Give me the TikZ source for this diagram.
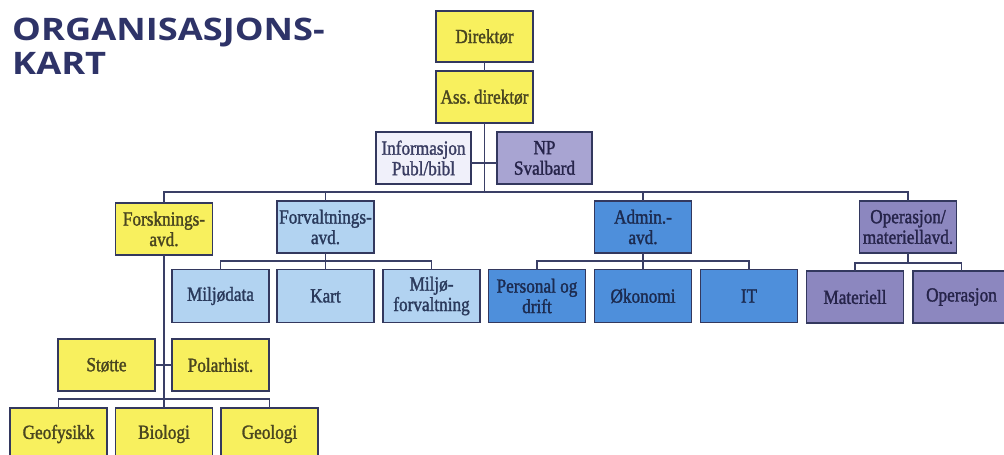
\documentclass[tikz,border=0pt]{standalone}
\usepackage{fontspec}
\setmainfont{Liberation Serif}
\newfontfamily\boxfont{Liberation Serif}[FakeStretch=0.86,FakeBold=1.5]
\newfontfamily\titlefont{Open Sans}[FakeStretch=1.17]
\definecolor{bordc}{HTML}{33385E}
\definecolor{linec}{HTML}{3A3F66}
\definecolor{yelc}{HTML}{F8F05E}
\definecolor{yeltxt}{HTML}{4A4620}
\definecolor{ltbluec}{HTML}{B2D3F1}
\definecolor{ltbluetxt}{HTML}{2A3A5C}
\definecolor{bluec}{HTML}{4E8FDB}
\definecolor{bluetxt}{HTML}{1C2B50}
\definecolor{purpc}{HTML}{8C87BF}
\definecolor{purptxt}{HTML}{26244A}
\definecolor{npc}{HTML}{A8A4D2}
\definecolor{infoc}{HTML}{F0F0FA}
\definecolor{infotxt}{HTML}{3A3D62}
\definecolor{titlec}{HTML}{2E3368}
\begin{document}
\begin{tikzpicture}[x=1pt,y=-1pt,
  box/.style={draw=bordc, line width=1.6pt, rectangle, inner sep=0pt, outer sep=0pt,
    align=center, minimum height=52pt, minimum width=97pt,
    font=\boxfont\fontsize{20}{20.5}\selectfont},
  yel/.style={box, fill=yelc, text=yeltxt},
  ltblue/.style={box, fill=ltbluec, text=ltbluetxt},
  blue/.style={box, fill=bluec, text=bluetxt},
  purp/.style={box, fill=purpc, text=purptxt},
  conn/.style={draw=linec, line width=1.4pt}]
\useasboundingbox (0,0) rectangle (1004,455);
\fill[white] (0,0) rectangle (1004,455);
\clip (0,0) rectangle (1004,455);

% title
\node[anchor=north west, inner sep=0pt, align=left, text=titlec,
  font=\titlefont\bfseries\fontsize{31}{33.5}\selectfont] (title) at (12,18) {ORGANISASJONS-\\KART};

% top
\node[yel, minimum height=51pt] (dir) at (484.5,36.5) {Direktør};
\node[yel] (ass) at (484.5,97) {Ass.\,direktør};
\node[box, fill=infoc, text=infotxt, minimum width=95pt] (info) at (423.5,158) {Informasjon\\Publ/bibl};
\node[box, fill=npc, text=purptxt, minimum width=95pt] (np) at (544.5,158) {NP\\Svalbard};
\coordinate (bar) at (484.5,192);

% departments
\node[yel] (fors) at (164,229) {Forsknings-\\avd.};
\node[ltblue] (forv) at (325.5,227) {Forvaltnings-\\avd.};
\node[blue] (admin) at (643,227) {Admin.-\\avd.};
\node[purp] (oper) at (908,227) {Operasjon/\\materiellavd.};

% level 3
\node[ltblue, minimum height=53pt] (milj) at (220.5,296) {Miljødata};
\node[ltblue, minimum height=53pt] (kart) at (325.5,296) {Kart};
\node[ltblue, minimum height=53pt] (mforv) at (431.5,296) {Miljø-\\forvaltning};
\node[blue, minimum height=53pt] (pers) at (537,296) {Personal og\\drift};
\node[blue, minimum height=53pt] (oko) at (643,296) {Økonomi};
\node[blue, minimum height=53pt] (it) at (749,296) {IT};
\node[purp] (mat) at (855,297) {Materiell};
\node[purp] (ops) at (961.5,297) {Operasjon};
\coordinate (subforv) at (325.5,261);
\coordinate (subadm) at (643,261);
\coordinate (subop) at (908,263);

% research branch
\node[yel] (stot) at (106.5,365) {Støtte};
\node[yel] (polar) at (220.5,365) {Polarhist.};
\node[yel] (geof) at (58.5,434) {Geofysikk};
\node[yel] (bio) at (164,434) {Biologi};
\node[yel] (geol) at (269.5,434) {Geologi};
\coordinate (subfors) at (164,399);

% connectors
\draw[conn] (dir) -- (ass);
\draw[conn] (ass) -- (bar);
\draw[conn] ([yshift=-5pt]info.east) -- ([yshift=-5pt]np.west);
\draw[conn] (fors.north) -- (fors.north |- bar) -- (oper.north |- bar) -- (oper.north);
\draw[conn] (forv.north) -- (forv.north |- bar);
\draw[conn] (admin.north) -- (admin.north |- bar);

\draw[conn] (forv.south) -- (subforv);
\draw[conn] (milj.north) -- (milj.north |- subforv) -- (mforv.north |- subforv) -- (mforv.north);
\draw[conn] (kart.north) -- (subforv);

\draw[conn] (admin.south) -- (subadm);
\draw[conn] (pers.north) -- (pers.north |- subadm) -- (it.north |- subadm) -- (it.north);
\draw[conn] (oko.north) -- (subadm);

\draw[conn] (oper.south) -- (subop);
\draw[conn] (mat.north) -- (mat.north |- subop) -- (ops.north |- subop) -- (ops.north);

\draw[conn] (fors.south) -- (bio.north);
\draw[conn] (stot.east) -- (polar.west);
\draw[conn] (geof.north) -- (geof.north |- subfors) -- (geol.north |- subfors) -- (geol.north);
\end{tikzpicture}
\end{document}
